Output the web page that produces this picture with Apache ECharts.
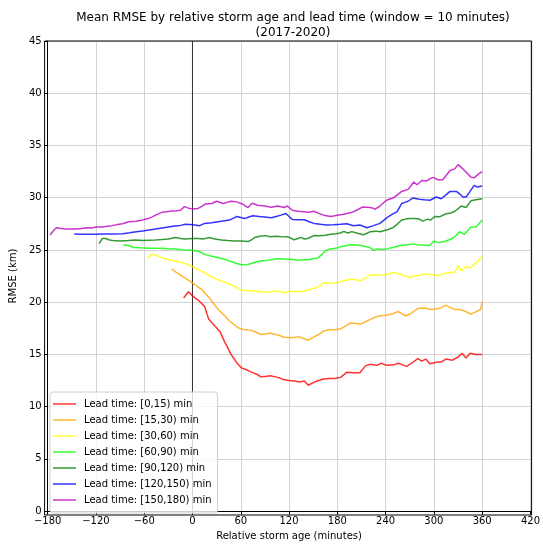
<!DOCTYPE html>
<html><head><meta charset="utf-8">
<script src="https://cdn.jsdelivr.net/npm/echarts@6/dist/echarts.min.js"></script>
<style>html,body{margin:0;padding:0;background:#fff}#c{width:543px;height:546px}</style>
</head><body><div id="c"></div>
<script>
const seriesNames = ['Lead time: [0,15) min','Lead time: [15,30) min','Lead time: [30,60) min','Lead time: [60,90) min','Lead time: [90,120) min','Lead time: [120,150) min','Lead time: [150,180) min'];
const seriesColors = ['rgba(255,0,0,0.8)','rgba(255,165,0,0.8)','rgba(255,255,0,0.8)','rgba(0,255,0,0.8)','rgba(0,128,0,0.8)','rgba(0,0,255,0.8)','rgba(191,0,191,0.8)'];
const xTicks = {min:-180, max:420, step:60};
const yTicks = {min:0, max:45, step:5};

const lead0_15 = [[-11,20.4],[-5,21.0],[0,20.6],[7,20.2],[15,19.6],[20,18.4],[27,17.8],[34,17.2],[40,16.2],[48,15.0],[55,14.2],[61,13.7],[68,13.5],[73,13.3],[80,13.1],[85,12.85],[92,12.9],[97,12.95],[106,12.8],[113,12.6],[120,12.5],[127,12.45],[133,12.35],[139,12.45],[144,12.05],[150,12.3],[155,12.45],[163,12.65],[170,12.7],[177,12.7],[184,12.8],[192,13.3],[200,13.25],[208,13.25],[215,13.9],[221,14.05],[229,13.95],[235,14.15],[241,13.95],[250,14.0],[256,14.15],[261,14.0],[266,13.85],[273,14.2],[280,14.6],[285,14.35],[290,14.55],[295,14.1],[303,14.25],[310,14.3],[315,14.55],[323,14.45],[330,14.75],[335,15.1],[340,14.65],[345,15.1],[352,15.0],[360,15.0]];
const lead15_30 = [[-26,23.2],[-20,22.85],[-13,22.5],[-6,22.15],[0,21.85],[6,21.5],[12,21.2],[20,20.5],[26,19.9],[32,19.3],[40,18.7],[46,18.2],[51,17.9],[58,17.5],[65,17.35],[73,17.3],[80,17.1],[85,16.9],[90,16.95],[96,17.03],[101,16.95],[106,16.85],[114,16.65],[122,16.6],[128,16.65],[133,16.68],[137,16.55],[144,16.36],[151,16.68],[157,16.9],[163,17.25],[170,17.35],[177,17.35],[184,17.45],[190,17.7],[196,18.0],[203,17.95],[209,17.9],[217,18.2],[225,18.5],[233,18.7],[241,18.75],[249,18.9],[256,19.1],[261,18.85],[266,18.7],[273,19.0],[280,19.4],[286,19.45],[291,19.4],[296,19.3],[302,19.35],[307,19.4],[315,19.72],[320,19.5],[326,19.3],[332,19.3],[338,19.15],[346,18.85],[350,19.0],[354,19.15],[358,19.3],[360,20.05]];
const lead30_60 = [[-56,24.2],[-50,24.6],[-44,24.45],[-38,24.25],[-30,24.06],[-22,23.95],[-13,23.8],[-6,23.6],[0,23.4],[6,23.15],[12,22.95],[20,22.6],[26,22.35],[32,22.15],[40,21.9],[48,21.65],[55,21.4],[61,21.15],[67,21.1],[73,21.1],[80,21.05],[90,20.95],[97,21.0],[106,21.1],[114,20.9],[122,21.05],[131,21.0],[137,21.05],[143,21.15],[150,21.3],[156,21.45],[163,21.85],[171,21.8],[180,21.85],[188,22.05],[196,22.2],[203,22.15],[209,22.05],[215,22.3],[221,22.6],[229,22.6],[237,22.63],[244,22.7],[250,22.86],[258,22.7],[264,22.5],[270,22.38],[276,22.5],[283,22.57],[287,22.7],[295,22.66],[300,22.6],[305,22.55],[310,22.65],[315,22.8],[321,22.85],[326,22.86],[330,23.5],[334,23.0],[340,23.4],[346,23.3],[352,23.74],[356,24.0],[360,24.45]];
const lead60_90 = [[-86,25.48],[-79,25.42],[-73,25.23],[-64,25.2],[-54,25.17],[-46,25.15],[-38,25.17],[-30,25.12],[-21,25.1],[-14,25.02],[-9,25.0],[0,24.98],[8,24.85],[16,24.55],[24,24.4],[32,24.25],[40,24.1],[48,23.9],[55,23.7],[61,23.58],[69,23.6],[75,23.75],[81,23.9],[86,23.96],[92,24.0],[98,24.06],[104,24.15],[110,24.15],[116,24.1],[122,24.1],[130,24.02],[137,24.05],[143,24.06],[150,24.15],[155,24.2],[160,24.5],[165,24.95],[172,25.1],[178,25.15],[184,25.3],[190,25.4],[196,25.5],[204,25.48],[211,25.4],[216,25.3],[221,25.2],[225,24.95],[229,25.1],[236,25.05],[242,25.1],[250,25.25],[258,25.42],[266,25.5],[274,25.58],[280,25.5],[288,25.45],[295,25.42],[300,25.86],[305,25.7],[310,25.75],[315,25.86],[320,26.0],[326,26.27],[332,26.75],[338,26.5],[346,27.2],[352,27.2],[356,27.5],[360,27.86]];
const lead90_120 = [[-116,25.6],[-112,26.1],[-108,26.1],[-103,25.95],[-99,25.9],[-90,25.85],[-80,25.9],[-71,25.96],[-62,25.9],[-54,25.93],[-46,25.96],[-38,26.0],[-30,26.05],[-21,26.18],[-15,26.1],[-9,26.05],[0,26.1],[7,26.1],[13,26.05],[20,26.18],[28,26.05],[36,25.96],[44,25.9],[52,25.86],[60,25.85],[69,25.8],[73,25.95],[77,26.18],[84,26.3],[90,26.37],[97,26.27],[105,26.3],[112,26.25],[118,26.27],[123,26.1],[126,25.96],[131,26.1],[135,26.2],[139,26.05],[143,26.1],[151,26.37],[157,26.35],[163,26.37],[168,26.45],[172,26.5],[178,26.55],[184,26.62],[188,26.78],[193,26.62],[198,26.75],[205,26.6],[212,26.45],[217,26.6],[221,26.75],[228,26.8],[233,26.75],[241,26.9],[249,27.13],[255,27.5],[260,27.86],[265,27.95],[270,28.0],[276,28.0],[282,27.95],[286,27.76],[292,27.95],[296,27.86],[301,28.2],[307,28.17],[315,28.46],[320,28.5],[326,28.7],[334,29.2],[340,29.06],[346,29.7],[352,29.8],[360,29.9]];
const lead120_150 = [[-147,26.53],[-140,26.5],[-132,26.5],[-120,26.5],[-110,26.52],[-100,26.53],[-87,26.56],[-78,26.65],[-70,26.75],[-62,26.82],[-54,26.9],[-46,27.0],[-38,27.1],[-30,27.19],[-22,27.28],[-15,27.35],[-9,27.45],[0,27.4],[9,27.32],[15,27.54],[24,27.6],[32,27.7],[40,27.8],[46,27.86],[51,28.05],[55,28.2],[60,28.1],[65,28.0],[70,28.15],[75,28.27],[83,28.2],[90,28.15],[98,28.08],[104,28.2],[110,28.33],[116,28.49],[120,28.2],[124,27.92],[131,27.9],[139,27.89],[145,27.7],[151,27.54],[159,27.45],[167,27.38],[175,27.4],[184,27.45],[192,27.5],[200,27.32],[208,27.38],[217,27.13],[224,27.3],[233,27.54],[238,27.85],[243,28.17],[249,28.45],[254,28.65],[260,29.44],[264,29.55],[268,29.66],[274,29.98],[282,29.85],[288,29.8],[295,29.76],[303,30.07],[309,29.9],[314,30.2],[320,30.6],[328,30.6],[333,30.3],[336,30.07],[340,30.07],[345,30.6],[350,31.18],[354,31.02],[360,31.12]];
const lead150_180 = [[-177,26.43],[-172,26.9],[-169,27.13],[-165,27.07],[-158,27.0],[-153,27.0],[-145,27.0],[-138,27.05],[-132,27.13],[-125,27.1],[-120,27.19],[-112,27.2],[-103,27.28],[-95,27.4],[-87,27.5],[-79,27.7],[-70,27.75],[-62,27.86],[-55,28.0],[-50,28.17],[-44,28.4],[-38,28.6],[-32,28.65],[-26,28.72],[-20,28.75],[-15,28.8],[-10,29.15],[-5,29.0],[0,28.93],[7,28.97],[12,29.2],[16,29.4],[24,29.44],[30,29.66],[38,29.44],[43,29.55],[48,29.66],[55,29.6],[62,29.4],[69,29.06],[74,29.47],[81,29.28],[90,29.2],[98,29.09],[106,29.2],[114,29.06],[118,29.2],[124,28.8],[131,28.7],[139,28.65],[145,28.6],[151,28.7],[157,28.5],[163,28.33],[172,28.2],[180,28.33],[186,28.4],[192,28.48],[198,28.6],[204,28.8],[211,29.1],[217,29.09],[223,29.03],[227,28.9],[233,29.2],[241,29.76],[250,30.0],[255,30.3],[260,30.6],[268,30.8],[275,31.5],[279,31.24],[285,31.65],[291,31.6],[295,31.8],[299,31.94],[305,31.72],[311,31.72],[315,32.1],[320,32.6],[326,32.76],[330,33.17],[334,32.9],[338,32.6],[342,32.3],[346,31.97],[350,31.9],[356,32.3],[360,32.5]];
const allData = [lead0_15, lead15_30, lead30_60, lead60_90, lead90_120, lead120_150, lead150_180];

const FONT = 'DejaVu Sans';
const chart = echarts.init(document.getElementById('c'), null, {renderer:'canvas'});
const minus = v => String(v).replace('-', '\u2212');

const series = allData.map((d,i)=>({
  name: seriesNames[i], type:'line', data:d, symbol:'none', showSymbol:false,
  lineStyle:{color:seriesColors[i], width:1.5}, itemStyle:{color:seriesColors[i]},
  animation:false, z:3
}));
series.push({
  name:'zeroline', type:'line', data:[[0,yTicks.min],[0,yTicks.max]], symbol:'none',
  lineStyle:{color:'#333', width:1}, animation:false, silent:true, z:2
});

chart.setOption({
  animation:false,
  title:{text:'Mean RMSE by relative storm age and lead time (window = 10 minutes)\n(2017-2020)',
    left:288, textAlign:'center', top:5,
    textStyle:{fontFamily:FONT, fontSize:12, fontWeight:'normal', color:'#000', lineHeight:15}},
  grid:{left:44.6, right:11.4, top:41, bottom:31, containLabel:false},
  legend:{data:seriesNames, orient:'vertical', left:50, top:392, backgroundColor:'rgba(255,255,255,0.8)',
    borderColor:'#d0d0d0', borderWidth:1, borderRadius:3, padding:[6,6,7,3],
    icon:'rect', itemWidth:23, itemHeight:1.5, itemGap:4,
    textStyle:{fontFamily:FONT, fontSize:10, color:'#000', padding:[0,0,0,3], lineHeight:12}},
  xAxis:{type:'value', min:xTicks.min, max:xTicks.max, interval:xTicks.step,
    name:'Relative storm age (minutes)', nameLocation:'middle', nameGap:19,
    nameTextStyle:{fontFamily:FONT, fontSize:10, color:'#000'},
    axisLine:{show:true, onZero:false, lineStyle:{color:'#000', width:1}},
    axisTick:{show:true, length:3.5, lineStyle:{color:'#000'}},
    axisLabel:{fontFamily:FONT, fontSize:10, color:'#000', margin:5, formatter:minus},
    splitLine:{show:true, lineStyle:{color:'#d3d3d3', width:1}}},
  yAxis:{type:'value', min:yTicks.min, max:yTicks.max, interval:yTicks.step,
    name:'RMSE (km)', nameLocation:'middle', nameGap:22,
    nameTextStyle:{fontFamily:FONT, fontSize:10, color:'#000'},
    axisLine:{show:true, onZero:false, lineStyle:{color:'#000', width:1}},
    axisTick:{show:true, length:3.5, lineStyle:{color:'#000'}},
    axisLabel:{fontFamily:FONT, fontSize:10, color:'#000', margin:6, formatter:minus},
    splitLine:{show:true, lineStyle:{color:'#d3d3d3', width:1}}},
  series: series,
  graphic:[{type:'rect', shape:{x:44.6, y:41, width:487, height:474}, style:{fill:'none', stroke:'#000', lineWidth:1}, silent:true, z:10}]
});
</script></body></html>
